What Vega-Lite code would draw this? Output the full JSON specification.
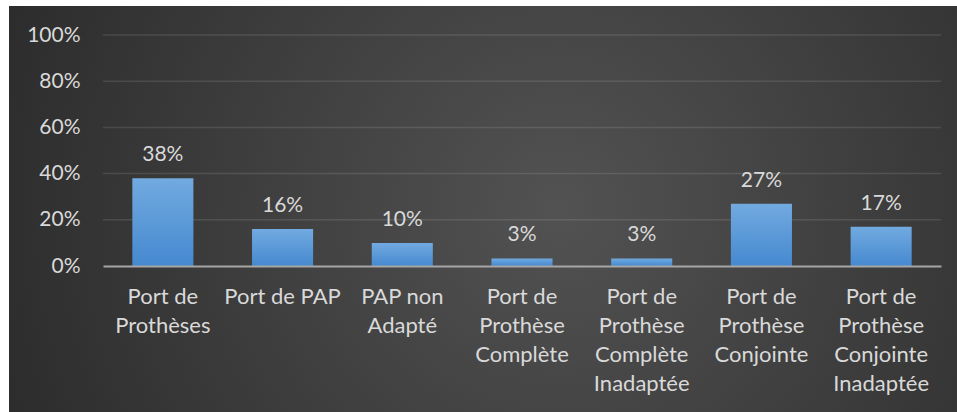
{
  "$schema": "https://vega.github.io/schema/vega-lite/v6.json",
  "width": 838,
  "height": 231,
  "autosize": {"type": "none"},
  "padding": {"left": 103, "top": 35, "right": 16, "bottom": 146},
  "background": "white",
  "config": {
    "view": {"stroke": null},
    "font": "Lato",
    "text": {"font": "Lato"}
  },
  "datasets": {
    "bars": [
      {"cat": "Port de|Prothèses", "v": 0.38},
      {"cat": "Port de PAP", "v": 0.16},
      {"cat": "PAP non|Adapté", "v": 0.10},
      {"cat": "Port de|Prothèse|Complète", "v": 0.033},
      {"cat": "Port de|Prothèse|Complète|Inadaptée", "v": 0.033},
      {"cat": "Port de|Prothèse|Conjointe", "v": 0.27},
      {"cat": "Port de|Prothèse|Conjointe|Inadaptée", "v": 0.17}
    ],
    "grid": [{"g": 0.2}, {"g": 0.4}, {"g": 0.6}, {"g": 0.8}, {"g": 1.0}],
    "bg": [{"x0": -0.11217, "x1": 1.01909, "y0": -0.63203, "y1": 1.12554}]
  },
  "resolve": {"scale": {"x": "independent", "y": "independent"}, "axis": {"x": "independent", "y": "independent"}},
  "layer": [
    {
      "data": {"name": "bg"},
      "mark": {
        "type": "rect",
        "fill": {
          "gradient": "radial",
          "x1": 0.58, "y1": 0.5, "r1": 0,
          "x2": 0.58, "y2": 0.5, "r2": 0.72,
          "stops": [
            {"offset": 0, "color": "#525252"},
            {"offset": 1, "color": "#262626"}
          ]
        }
      },
      "encoding": {
        "x": {"field": "x0", "type": "quantitative", "scale": {"domain": [0, 1], "nice": false, "zero": false}, "axis": null},
        "x2": {"field": "x1"},
        "y": {"field": "y0", "type": "quantitative", "scale": {"domain": [0, 1], "nice": false, "zero": false}, "axis": null},
        "y2": {"field": "y1"}
      }
    },
    {
      "layer": [
        {
          "data": {"name": "grid"},
          "mark": {"type": "rule", "stroke": "#ffffff", "strokeOpacity": 0.11, "strokeWidth": 1.5},
          "encoding": {
            "y": {"field": "g", "type": "quantitative", "scale": {"domain": [0, 1], "nice": false}}
          }
        },
        {
          "data": {"name": "bars"},
          "mark": {
            "type": "bar",
            "fill": {
              "gradient": "linear",
              "x1": 0, "y1": 0, "x2": 0, "y2": 1,
              "stops": [
                {"offset": 0, "color": "#72aae0"},
                {"offset": 1, "color": "#4589d0"}
              ]
            }
          },
          "encoding": {
            "x": {
              "field": "cat", "type": "nominal", "sort": null,
              "scale": {"paddingInner": 0.49, "paddingOuter": 0.245},
              "axis": {
                "title": null,
                "labelExpr": "split(datum.label, '|')",
                "labelAngle": 0,
                "labelFont": "Lato",
                "labelFontSize": 22,
                "labelColor": "#d9d9d9",
                "labelLineHeight": 29.3,
                "labelPadding": 20,
                "labelBaseline": "top",
                "ticks": false,
                "domainColor": "#a6a6a6",
                "domainWidth": 2,
                "grid": false,
                "zindex": 1
              }
            },
            "y": {
              "field": "v", "type": "quantitative",
              "scale": {"domain": [0, 1], "nice": false},
              "axis": {
                "title": null,
                "format": ".0%",
                "values": [0, 0.2, 0.4, 0.6, 0.8, 1],
                "labelFont": "Lato",
                "labelFontSize": 21,
                "labelColor": "#d9d9d9",
                "labelPadding": 23,
                "ticks": false,
                "domain": false,
                "grid": false,
                "zindex": 1
              }
            }
          }
        },
        {
          "data": {"name": "bars"},
          "mark": {"type": "text", "font": "Lato", "fontSize": 21, "color": "#d9d9d9", "baseline": "alphabetic", "dy": -17},
          "encoding": {
            "x": {"field": "cat", "type": "nominal", "sort": null},
            "y": {"field": "v", "type": "quantitative"},
            "text": {"field": "v", "type": "quantitative", "format": ".0%"}
          }
        }
      ]
    }
  ]
}
